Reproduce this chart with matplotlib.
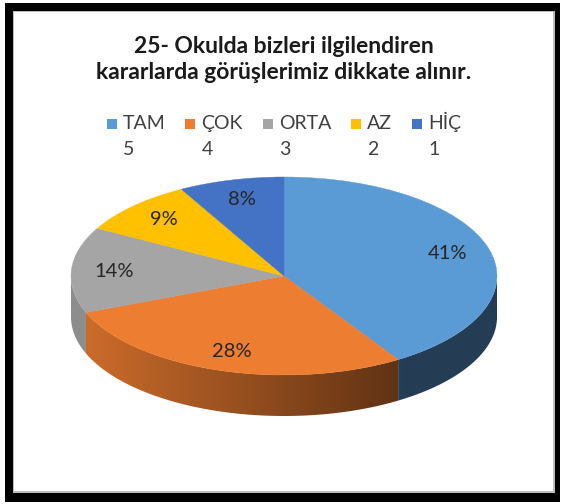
import numpy as np
import matplotlib
matplotlib.use("Agg")
import matplotlib.pyplot as plt
from matplotlib.patches import Rectangle, Polygon

# ---- data ----
categories = ["TAM", "ÇOK", "ORTA", "AZ", "HİÇ"]
codes = ["5", "4", "3", "2", "1"]
values = [41, 28, 14, 9, 8]
colors = ["#5B9BD5", "#ED7D31", "#A5A5A5", "#FFC000", "#4472C4"]
title_lines = ["25- Okulda bizleri ilgilendiren",
               "kararlarda görüşlerimiz dikkate alınır."]

W, H = 561, 504
plt.rcParams['font.family'] = ['Lato', 'DejaVu Sans']
fig = plt.figure(figsize=(W / 100, H / 100), dpi=100)
fig.patch.set_facecolor("white")


def fx(px):
    return px / W


def fy(py):
    return 1 - py / H


def prect(x0, y0, x1, y1, **kw):
    r = Rectangle((fx(x0), fy(y1)), fx(x1) - fx(x0), fy(y0) - fy(y1),
                  transform=fig.transFigure, **kw)
    fig.add_artist(r)
    return r


# frame
prect(5, 3, 560, 502, facecolor="black", edgecolor="none", zorder=0)
prect(13, 11, 555, 493, facecolor="#bdbdbd", edgecolor="none", zorder=0)
prect(14, 12, 553, 491, facecolor="white", edgecolor="none", zorder=0)

# title
TFS = 16.5
fig.text(fx(284), fy(53), title_lines[0], ha="center", va="baseline",
         fontsize=TFS, fontweight="bold", color="#1a1a1a")
fig.text(fx(284), fy(79), title_lines[1], ha="center", va="baseline",
         fontsize=TFS, fontweight="bold", color="#1a1a1a")

# ---- pie (3D look) ----
cx, cy, a, b, depth = 284, 276, 213, 99, 41
d = depth / b
ax = fig.add_axes([fx(cx - a), fy(cy + b + depth), 2 * a / W, (2 * b + depth) / H])
wedges, _ = ax.pie(values, colors=colors, startangle=90, counterclock=False,
                   radius=1, center=(0, 0),
                   wedgeprops=dict(linewidth=0.3, zorder=3))
for wdg, c in zip(wedges, colors):
    wdg.set_edgecolor(c)
ax.set_aspect("auto")
ax.axis("off")

vals = np.array(values, dtype=float)
frac = vals / vals.sum()
cum = np.concatenate([[0], np.cumsum(frac)])
starts = 90 - cum[:-1] * 360
ends = 90 - cum[1:] * 360


def shade(x):
    t = np.clip((x + 0.93) / 1.49, 0, 1)
    return 0.86 - 0.46 * t


xs_grid = np.linspace(-1, 1, 600)
for s, e, col in zip(starts, ends, colors):
    lo, hi = e, s
    for k in (-1, 0, 1):
        l2, h2 = max(lo + 360 * k, -180), min(hi + 360 * k, 0)
        if h2 <= l2:
            continue
        th = np.radians(np.linspace(l2, h2, 120))
        top = np.column_stack([np.cos(th), np.sin(th)])
        bot = np.column_stack([np.cos(th[::-1]), np.sin(th[::-1]) - d])
        poly = Polygon(np.vstack([top, bot]), closed=True, facecolor="none",
                       edgecolor="none", transform=ax.transData)
        ax.add_patch(poly)
        rgb = np.array(matplotlib.colors.to_rgb(col))
        img = (shade(xs_grid)[:, None] * rgb[None, :])[None, :, :]
        im = ax.imshow(img, extent=(-1, 1, -1 - d, 1), aspect="auto",
                       origin="lower", zorder=2, interpolation="bilinear")
        im.set_clip_path(poly)

ax.set_xlim(-1, 1)
ax.set_ylim(-1 - d, 1)

# data labels
LFS = 14.5
mids = np.radians((starts + ends) / 2)
for m, v in zip(mids, values):
    r = 0.8
    ax.text(r * np.cos(m), r * np.sin(m), f"{v}%", ha="center", va="center",
            fontsize=LFS, color="#262626", zorder=5)

# ---- legend (two-row labels, marker on first line) ----
GFS = 14
fig.canvas.draw()
renderer = fig.canvas.get_renderer()
msz, gap_mt, gap_item = 10, 6, 20
widths = []
for cat in categories:
    t = fig.text(0, 0, cat, fontsize=GFS)
    bb = t.get_window_extent(renderer)
    widths.append(bb.width)
    t.remove()
total = sum(msz + gap_mt + w for w in widths) + gap_item * (len(widths) - 1)
x = 284 - total / 2
base1, base2 = 129, 155
for cat, code, col, w in zip(categories, codes, colors, widths):
    prect(x, base1 - 10.5, x + msz, base1 - 0.5, facecolor=col, edgecolor="none")
    tx = x + msz + gap_mt
    fig.text(fx(tx), fy(base1), cat, ha="left", va="baseline", fontsize=GFS,
             color="#404040")
    fig.text(fx(tx), fy(base2), code, ha="left", va="baseline", fontsize=GFS,
             color="#404040")
    x = tx + w + gap_item

fig.savefig("out.png", dpi=100, facecolor="white")
